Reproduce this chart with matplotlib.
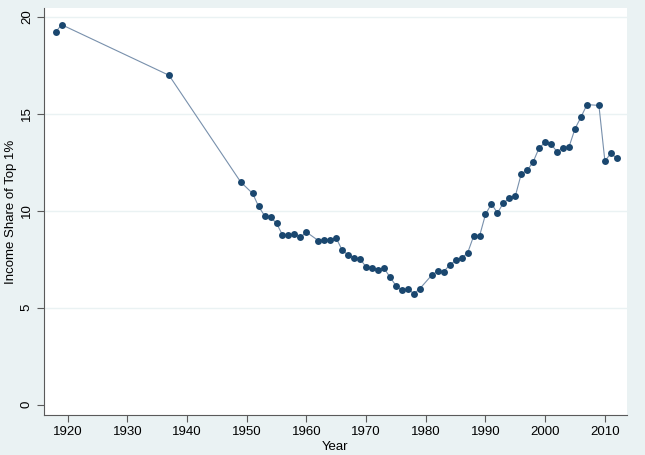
import matplotlib
matplotlib.use('Agg')
import matplotlib.pyplot as plt

# top 1% income share (gaps: 1950, 1961, 1980, 2008)
years = [1918, 1919, 1937,
         1949, 1951, 1952, 1953, 1954, 1955, 1956, 1957, 1958, 1959, 1960,
         1962, 1963, 1964, 1965, 1966, 1967, 1968, 1969, 1970,
         1971, 1972, 1973, 1974, 1975, 1976, 1977, 1978, 1979,
         1981, 1982, 1983, 1984, 1985, 1986, 1987, 1988, 1989, 1990,
         1991, 1992, 1993, 1994, 1995, 1996, 1997, 1998, 1999, 2000,
         2001, 2002, 2003, 2004, 2005, 2006, 2007,
         2009, 2010, 2011, 2012]
share = [19.21, 19.59, 16.98,
         11.48, 10.89, 10.22, 9.74, 9.67, 9.35, 8.75, 8.73, 8.80, 8.63, 8.90,
         8.46, 8.51, 8.49, 8.59, 7.96, 7.72, 7.56, 7.51, 7.10,
         7.06, 6.96, 7.04, 6.58, 6.14, 5.89, 5.98, 5.72, 5.98,
         6.68, 6.89, 6.86, 7.20, 7.44, 7.56, 7.82, 8.68, 8.69, 9.81,
         10.36, 9.88, 10.40, 10.64, 10.76, 11.91, 12.08, 12.53, 13.25, 13.52,
         13.42, 13.04, 13.25, 13.30, 14.23, 14.83, 15.47,
         15.43, 12.56, 12.96, 12.70]

yticks = [0, 5, 10, 15, 20]
xticks = list(range(1920, 2011, 10))

bg = '#EAF2F3'
navy = '#1A476F'

plt.rcParams['font.family'] = ['Liberation Sans', 'DejaVu Sans']

fig = plt.figure(figsize=(6.45, 4.55), dpi=100, facecolor=bg)
ax = fig.add_axes([0.0682, 0.0879, 0.9034, 0.8945])
ax.set_facecolor('white')

ax.plot(years, share, '-', color='#7890ac', linewidth=0.8, zorder=2)
ax.plot(years, share, 'o', color=navy, markersize=5, markeredgewidth=0, zorder=3)

ax.set_xlim(1916.05, 2013.65)
ax.set_ylim(-0.53, 20.45)
ax.set_xticks(xticks)
ax.set_yticks(yticks)
ax.set_yticklabels([str(t) for t in yticks], rotation=90, va='center')

for t in yticks[1:]:
    ax.axhline(t, color=bg, linewidth=1.0, zorder=1)

for side in ['top', 'right']:
    ax.spines[side].set_visible(False)
for side in ['left', 'bottom']:
    ax.spines[side].set_color('#5a5a5a')
    ax.spines[side].set_linewidth(0.8)

ax.tick_params(axis='both', colors='#5a5a5a', labelcolor='black', labelsize=9.5,
               length=5, width=0.8, pad=3)

ax.set_xlabel('Year', fontsize=9.5, labelpad=2)
ax.set_ylabel('Income Share of Top 1%', fontsize=9.5, labelpad=3)

fig.savefig('out.png', dpi=100, facecolor=bg)
